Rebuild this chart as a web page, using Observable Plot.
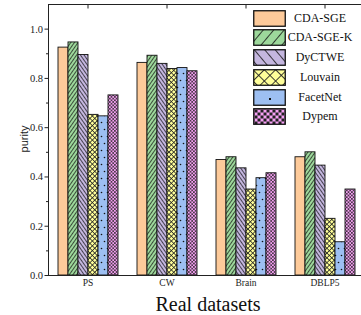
<!DOCTYPE html>
<html>
<head>
<meta charset="utf-8">
<script src="https://cdn.jsdelivr.net/npm/d3@7"></script>
<script src="https://cdn.jsdelivr.net/npm/@observablehq/plot@0.6"></script>
<style>
  html, body { margin: 0; padding: 0; background: #fff; overflow: hidden; }
  #wrap { position: relative; width: 361px; height: 315px; overflow: hidden; }
  #chart svg { max-width: none !important; }
  #ylab { position: absolute; left: 24px; top: 139px; font-family: "Liberation Sans", Arial, sans-serif; font-size: 11px; color: #222;
          transform: translate(-50%, -50%) rotate(-90deg); white-space: nowrap; }
  #xlab { position: absolute; left: 208px; top: 294px; transform: translateX(-50%); font-family: "Liberation Serif", "Times New Roman", serif;
          font-size: 20px; line-height: 20px; color: #111; white-space: nowrap; }
  #legend { position: absolute; left: 253px; top: 10px; font-family: "Liberation Serif", "Times New Roman", serif; font-size: 12px; color: #111; }
  .row { display: flex; align-items: center; height: 16px; margin-bottom: 3.8px; }
  .row svg { display: block; }
  .row span { display: inline-block; width: 68px; text-align: center; }
</style>
</head>
<body>
<svg width="0" height="0" style="position:absolute">
  <defs>
    <pattern id="p0" patternUnits="userSpaceOnUse" width="4" height="4"><rect width="4" height="4" fill="#FDCA9A"/></pattern>
    <pattern id="p1" patternUnits="userSpaceOnUse" width="3" height="3" patternTransform="rotate(35)"><rect width="3" height="3" fill="#9DD89B"/><line x1="0.4" y1="0" x2="0.4" y2="3" stroke="#111" stroke-width="0.8"/></pattern>
    <pattern id="p2" patternUnits="userSpaceOnUse" width="3" height="3" patternTransform="rotate(-35)"><rect width="3" height="3" fill="#C4B6DF"/><line x1="0.4" y1="0" x2="0.4" y2="3" stroke="#111" stroke-width="0.8"/></pattern>
    <pattern id="p3" patternUnits="userSpaceOnUse" width="3.4" height="3.4" patternTransform="rotate(45)"><rect width="3.4" height="3.4" fill="#FFFF9A"/><line x1="0.4" y1="0" x2="0.4" y2="3.4" stroke="#222" stroke-width="0.8"/><line x1="0" y1="0.4" x2="3.4" y2="0.4" stroke="#222" stroke-width="0.8"/></pattern>
    <pattern id="p4" patternUnits="userSpaceOnUse" width="6" height="14"><rect width="6" height="14" fill="#9DBFF2"/><circle cx="1.5" cy="3.5" r="0.8" fill="#111"/><circle cx="4.5" cy="10.5" r="0.8" fill="#111"/></pattern>
    <pattern id="p5" patternUnits="userSpaceOnUse" width="3.4" height="3.4"><rect width="3.4" height="3.4" fill="#F6A0F4"/><circle cx="0" cy="0" r="0.9" fill="#222"/><circle cx="3.4" cy="0" r="0.9" fill="#222"/><circle cx="0" cy="3.4" r="0.9" fill="#222"/><circle cx="3.4" cy="3.4" r="0.9" fill="#222"/><circle cx="1.7" cy="1.7" r="0.9" fill="#222"/></pattern>

    <pattern id="l0" patternUnits="userSpaceOnUse" width="4" height="4"><rect width="4" height="4" fill="#FDCA9A"/></pattern>
    <pattern id="l1" patternUnits="userSpaceOnUse" width="8" height="8" patternTransform="rotate(40)"><rect width="8" height="8" fill="#9DD89B"/><line x1="0.5" y1="0" x2="0.5" y2="8" stroke="#111" stroke-width="0.8"/></pattern>
    <pattern id="l2" patternUnits="userSpaceOnUse" width="8" height="8" patternTransform="rotate(-40)"><rect width="8" height="8" fill="#C4B6DF"/><line x1="0.5" y1="0" x2="0.5" y2="8" stroke="#111" stroke-width="0.8"/></pattern>
    <pattern id="l3" patternUnits="userSpaceOnUse" width="8" height="8" patternTransform="rotate(45)"><rect width="8" height="8" fill="#FFFF9A"/><line x1="0.5" y1="0" x2="0.5" y2="8" stroke="#222" stroke-width="0.9"/><line x1="0" y1="0.5" x2="8" y2="0.5" stroke="#222" stroke-width="0.9"/></pattern>
    <pattern id="l4" patternUnits="userSpaceOnUse" width="32" height="16"><rect width="32" height="16" fill="#9DBFF2"/><rect x="16" y="9" width="2" height="2" fill="#111"/></pattern>
    <pattern id="l5" patternUnits="userSpaceOnUse" width="6" height="6"><rect width="6" height="6" fill="#F6A0F4"/><rect x="-1.5" y="-1.5" width="3" height="3" fill="#222"/><rect x="4.5" y="-1.5" width="3" height="3" fill="#222"/><rect x="-1.5" y="4.5" width="3" height="3" fill="#222"/><rect x="4.5" y="4.5" width="3" height="3" fill="#222"/><rect x="1.5" y="1.5" width="3" height="3" fill="#222"/></pattern>
  </defs>
</svg>
<div id="wrap">
  <div id="chart"></div>
  <div id="ylab">purity</div>
  <div id="xlab">Real datasets</div>
  <div id="legend"></div>
</div>
<script>
const datasets = ["PS", "CW", "Brain", "DBLP5"];
const methods = ["CDA-SGE", "CDA-SGE-K", "DyCTWE", "Louvain", "FacetNet", "Dypem"];
const cdaSge   = [0.925, 0.863, 0.469, 0.480];
const cdaSgeK  = [0.946, 0.892, 0.480, 0.500];
const dyctwe   = [0.895, 0.859, 0.435, 0.446];
const louvain  = [0.652, 0.838, 0.349, 0.230];
const facetnet = [0.646, 0.842, 0.395, 0.135];
const dypem    = [0.731, 0.829, 0.415, 0.349];
const yTicks = [0, 0.2, 0.4, 0.6, 0.8, 1.0];
const yMinor = [0.1, 0.3, 0.5, 0.7, 0.9];

const series = [cdaSge, cdaSgeK, dyctwe, louvain, facetnet, dypem];
const rows = [];
datasets.forEach((ds, i) => methods.forEach((m, j) => rows.push({dataset: ds, method: m, value: series[j][i]})));
const barFills = methods.map((m, j) => `url(#p${j})`);

const serif = "Liberation Serif, Times New Roman, serif";
const plot = Plot.plot({
  width: 370,
  height: 315,
  marginLeft: 47,
  marginRight: 5.5,
  marginTop: 4,
  marginBottom: 40,
  style: {fontFamily: serif, background: "transparent", overflow: "visible", maxWidth: "none"},
  fx: {domain: datasets, padding: 0, label: null},
  x: {domain: methods, paddingInner: 0, paddingOuter: 0.72, axis: null},
  y: {domain: [0, 1.1], label: null},
  color: {domain: methods, range: barFills},
  marks: [
    Plot.barY(rows, {fx: "dataset", x: "method", y: "value", fill: "method", stroke: "#111", strokeWidth: 0.9}),
    Plot.axisY({ticks: yTicks, tickSize: 3.5, tickPadding: 2, fontSize: 10.5, tickFormat: d3.format(".1f"), label: null, stroke: "#222", fill: "#222"}),
    Plot.axisY({ticks: yMinor, tickSize: 2, text: null, label: null, stroke: "#222"}),
    Plot.axisY({anchor: "right", ticks: yTicks, tickSize: 3.5, dx: -3.5, text: null, label: null, stroke: "#222"}),
    Plot.axisFx({anchor: "bottom", tickSize: 0, tickPadding: 4, fontSize: 9.5, label: null, fill: "#222"}),
    Plot.axisFx({anchor: "top", tickSize: 3.5, dy: 3.5, text: null, label: null, stroke: "#222"}),
    Plot.frame({facet: "super", stroke: "#222", strokeWidth: 1})
  ]
});
document.getElementById("chart").appendChild(plot);

const legend = document.getElementById("legend");
methods.forEach((m, j) => {
  const row = document.createElement("div");
  row.className = "row";
  row.innerHTML = `<svg width="33" height="17"><rect x="0.75" y="0.75" width="31.5" height="15.5" fill="url(#l${j})" stroke="#111" stroke-width="1.3"/></svg><span>${m}</span>`;
  legend.appendChild(row);
});
</script>
</body>
</html>
